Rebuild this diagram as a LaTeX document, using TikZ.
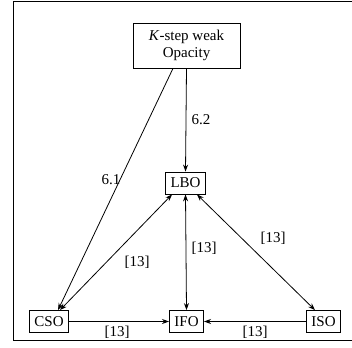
\documentclass[tikz,border=0pt]{standalone}
\usepackage{fontspec}
\setmainfont{Liberation Serif}
\usetikzlibrary{arrows.meta}
\begin{document}
\begin{tikzpicture}[x=1pt,y=-1pt,
  box/.style={draw,line width=0.8pt,inner xsep=5pt,inner ysep=0pt,minimum height=22pt,font=\fontsize{15}{17}\selectfont},
  lbl/.style={font=\fontsize{15}{17}\selectfont,inner sep=1pt},
  arr/.style={line width=0.8pt,-{Stealth[length=7pt,width=5pt]}},
  darr/.style={line width=0.8pt,{Stealth[length=7pt,width=5pt]}-{Stealth[length=7pt,width=5pt]}}]
\useasboundingbox (0,0) rectangle (352,347);
\draw[line width=1pt] (352,2) -- (13,2) -- (13,340) -- (352,340);
\node[box,align=center,minimum width=107pt,minimum height=45pt] (top) at (186.5,45.5) {\textit{K}-step weak\\Opacity};
\node[box] (lbo) at (185.5,183) {LBO};
\node[box] (cso) at (49,321.5) {CSO};
\node[box] (ifo) at (186.5,321.5) {IFO};
\node[box] (iso) at (323.5,321.5) {ISO};
\draw[arr] ([xshift=-13.5pt]top.south) -- ([xshift=9pt]cso.north);
\draw[arr] (top.south) -- (lbo.north);
\draw[darr] ([xshift=7pt]lbo.south west) -- ([xshift=-9pt]cso.north east);
\draw[darr] (lbo.south) -- (ifo.north);
\draw[darr] ([xshift=-9pt]lbo.south east) -- ([xshift=9pt]iso.north west);
\draw[arr] (cso.east) -- (ifo.west);
\draw[arr] (iso.west) -- (ifo.east);
\node[lbl] (l61) at (111,180) {6.1};
\node[lbl] (l62) at (201,120) {6.2};
\node[lbl] (l1) at (137,262) {[13]};
\node[lbl] (l2) at (204,248) {[13]};
\node[lbl] (l3) at (273,238) {[13]};
\node[lbl] (l4) at (117,332) {[13]};
\node[lbl] (l5) at (255,332) {[13]};
\end{tikzpicture}
\end{document}
